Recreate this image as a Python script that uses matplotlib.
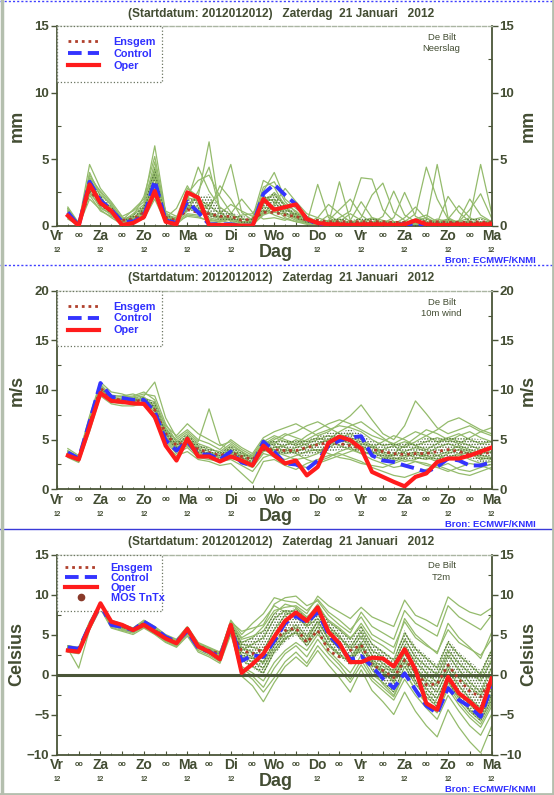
import numpy as np
import matplotlib
matplotlib.use('Agg')
import matplotlib.pyplot as plt
from matplotlib.lines import Line2D
from matplotlib.ticker import MultipleLocator

plt.rcParams['font.family'] = ['Liberation Sans', 'DejaVu Sans']
plt.rcParams['hatch.linewidth'] = 0.7

# ---------------- data ----------------
hours = list(range(6, 241, 6))          # forecast hours from Vr 12 UTC
day_names = ['Vr', 'Za', 'Zo', 'Ma', 'Di', 'Wo', 'Do', 'Vr', 'Za', 'Zo', 'Ma']
title_text = '(Startdatum: 2012012012)   Zaterdag  21 Januari   2012'

# Precipitation (mm)
precip_oper = [0.75, 0.0, 3.1, 1.7, 1.1, 0.05, 0.2, 0.65, 2.6, 0.3, 0.1, 2.5, 2.1, 0.05, 0.05, 0.05, 0.0, 0.0, 2.0, 1.2,
               1.4, 1.6, 0.5, 0.2, 0.1, 0.1, 0.05, 0.1, 0.1, 0.1, 0.05, 0.1, 0.4, 0.1, 0.05, 0.05, 0.1, 0.05, 0.1, 0.1]
precip_control = [1.0, 0.0, 3.3, 1.9, 1.2, 0.3, 0.3, 0.7, 3.4, 0.4, 0.2, 1.8, 1.0, 0.1, 0.1, 0.1, 0.0, 0.0, 2.4, 3.1,
                  2.3, 1.6, 0.5, 0.1, 0.0, 0.0, 0.0, 0.0, 0.05, 0.05, 0.05, 0.1, 0.0, 0.05, 0.05, 0.05, 0.05, 0.05, 0.05, 0.05]
precip_mean = [0.8, 0.1, 2.6, 1.8, 1.1, 0.4, 0.5, 1.0, 2.5, 0.6, 0.4, 1.2, 1.0, 0.9, 0.7, 0.7, 0.4, 0.5, 1.0, 1.0,
               0.8, 0.7, 0.4, 0.4, 0.3, 0.3, 0.3, 0.3, 0.3, 0.3, 0.25, 0.25, 0.3, 0.3, 0.3, 0.25, 0.25, 0.25, 0.3, 0.25]
precip_members = [
    [1.2, 0.1, 3.8, 2.5, 1.5, 0.4, 0.6, 1.2, 4.4, 0.8, 0.3, 1.5, 1.4, 0.8, 0.5, 0.6, 0.3, 0.2, 1.8, 2.0, 1.2, 0.8, 0.3, 0.2, 0.1, 0.1, 0.0, 0.2, 0.5, 0.2, 0.1, 0.1, 0.3, 0.2, 0.1, 0.0, 0.1, 0.2, 0.1, 0.1],
    [0.6, 0.0, 2.4, 1.6, 0.9, 0.2, 0.3, 1.5, 3.0, 0.5, 0.6, 2.8, 2.2, 6.3, 1.0, 0.4, 0.2, 0.0, 0.9, 1.4, 1.0, 0.5, 0.2, 3.1, 0.6, 0.2, 0.1, 0.0, 0.1, 0.3, 0.1, 0.0, 0.2, 0.1, 0.3, 0.1, 0.0, 0.1, 0.0, 0.2],
    [1.4, 0.2, 4.6, 2.8, 1.8, 0.7, 1.1, 1.8, 6.0, 1.0, 0.3, 0.9, 0.8, 1.6, 2.4, 4.6, 1.0, 0.4, 1.2, 0.8, 0.5, 0.3, 0.1, 0.1, 0.4, 0.2, 0.1, 0.3, 0.6, 0.4, 0.2, 0.1, 0.5, 0.8, 0.3, 0.2, 0.1, 0.3, 0.2, 0.1],
    [0.9, 0.1, 3.4, 2.0, 1.3, 0.5, 0.4, 0.9, 3.6, 0.3, 0.2, 1.9, 4.4, 2.6, 1.4, 0.8, 0.5, 0.3, 2.6, 4.0, 2.0, 1.3, 0.7, 0.3, 0.2, 3.3, 0.4, 0.1, 0.2, 0.1, 0.0, 0.1, 0.1, 0.4, 4.6, 0.6, 0.2, 0.1, 0.1, 0.0],
    [0.5, 0.0, 2.0, 1.2, 0.6, 0.1, 0.2, 0.6, 2.2, 0.6, 1.3, 3.0, 1.6, 0.5, 0.3, 0.9, 2.0, 1.0, 0.5, 0.6, 0.4, 0.9, 0.5, 0.3, 0.1, 0.6, 1.1, 3.6, 3.5, 1.2, 0.3, 0.2, 0.1, 0.0, 0.2, 0.4, 0.3, 0.6, 4.6, 1.0],
    [1.1, 0.2, 3.0, 1.4, 0.8, 0.3, 0.7, 2.2, 5.2, 0.9, 0.4, 1.1, 2.6, 4.4, 1.1, 0.3, 0.1, 0.1, 1.6, 2.5, 1.6, 1.1, 0.4, 0.2, 0.8, 0.3, 0.1, 0.0, 0.1, 0.2, 0.6, 2.5, 0.7, 0.3, 0.1, 0.1, 0.2, 0.1, 0.3, 0.2],
    [0.8, 0.0, 2.7, 1.9, 1.4, 0.6, 0.5, 1.0, 2.8, 0.4, 0.2, 1.6, 1.2, 0.6, 0.4, 0.2, 0.1, 0.6, 3.4, 2.9, 1.4, 0.6, 0.3, 0.1, 0.1, 0.0, 0.4, 1.8, 0.6, 0.2, 0.1, 0.3, 0.9, 4.4, 2.0, 0.5, 0.2, 0.4, 0.6, 0.3],
    [1.3, 0.1, 4.0, 2.2, 1.0, 0.2, 0.8, 1.4, 4.0, 0.7, 0.5, 2.1, 1.9, 1.2, 3.0, 2.0, 0.6, 0.2, 1.0, 1.6, 2.8, 1.8, 0.9, 0.6, 0.3, 0.2, 0.1, 0.1, 0.2, 0.7, 2.6, 0.8, 0.3, 0.1, 0.0, 0.1, 0.3, 1.2, 2.4, 0.6],
    [0.7, 0.1, 2.3, 1.1, 0.7, 0.3, 0.9, 1.6, 4.8, 0.6, 0.3, 0.7, 0.6, 0.4, 0.3, 0.5, 0.8, 0.9, 2.2, 1.8, 0.8, 0.4, 0.2, 0.6, 1.6, 0.9, 0.3, 0.2, 0.1, 0.0, 0.1, 0.2, 0.4, 0.6, 0.2, 2.2, 1.0, 0.3, 0.1, 0.1],
    [1.0, 0.0, 3.6, 2.6, 1.7, 0.4, 0.3, 0.5, 2.0, 0.2, 0.1, 2.4, 3.4, 3.8, 2.2, 1.0, 0.3, 0.1, 0.8, 1.1, 1.2, 0.9, 0.4, 0.2, 0.1, 0.3, 0.9, 0.4, 0.1, 0.1, 0.2, 0.1, 0.1, 0.2, 0.5, 0.3, 0.1, 0.0, 0.2, 0.4],
    [0.6, 0.2, 3.2, 1.5, 1.2, 0.5, 0.6, 1.1, 3.2, 0.5, 0.2, 1.3, 1.0, 0.9, 0.6, 0.4, 0.2, 0.4, 2.9, 3.3, 1.8, 1.0, 0.6, 0.3, 0.2, 0.1, 0.2, 0.6, 2.3, 3.2, 1.0, 0.4, 0.2, 0.1, 0.1, 0.0, 0.2, 0.3, 0.1, 0.1],
    [1.1, 0.1, 2.9, 1.8, 1.1, 0.3, 0.4, 0.8, 3.8, 0.8, 0.6, 1.7, 2.0, 1.5, 0.9, 1.6, 1.1, 0.7, 1.4, 1.3, 0.6, 0.3, 0.2, 0.1, 0.3, 0.5, 0.2, 0.1, 0.3, 0.2, 0.1, 0.6, 1.4, 0.5, 0.2, 0.1, 0.4, 2.0, 0.8, 0.3],
    [0.9, 0.0, 3.5, 2.3, 1.6, 0.6, 0.5, 1.3, 3.0, 0.3, 0.1, 0.8, 0.7, 0.3, 0.2, 0.1, 0.0, 0.2, 2.0, 2.3, 1.5, 0.7, 0.2, 0.1, 0.0, 0.1, 0.1, 0.0, 0.2, 0.1, 0.0, 0.1, 0.2, 0.1, 0.0, 0.1, 0.1, 0.0, 0.1, 0.1],
    [1.3, 0.1, 2.6, 1.3, 0.9, 0.4, 1.2, 2.0, 4.2, 1.1, 0.7, 1.4, 1.2, 1.0, 0.7, 0.5, 0.3, 0.2, 1.1, 1.0, 0.9, 0.6, 0.3, 0.2, 0.4, 1.2, 2.0, 0.8, 0.2, 0.1, 0.3, 0.2, 0.1, 0.1, 0.3, 0.5, 1.5, 0.6, 0.2, 0.1],
]

# 10m wind (m/s)
wind_oper = [3.4, 3.0, 6.3, 9.7, 8.9, 8.8, 8.65, 8.6, 7.3, 4.4, 2.9, 5.1, 3.3, 3.3, 2.8, 3.3, 2.9, 2.4, 4.4, 3.4,
             2.6, 2.9, 1.4, 2.25, 4.7, 5.3, 4.95, 4.1, 1.75, 1.25, 0.75, 0.3, 1.25, 1.6, 2.75, 3.1, 3.1, 3.4, 3.8, 4.2]
wind_control = [3.7, 3.1, 6.8, 10.7, 9.3, 9.2, 9.0, 9.0, 7.8, 4.95, 3.9, 4.8, 3.5, 3.5, 3.0, 3.8, 2.7, 2.4, 4.8, 3.8,
                2.6, 2.5, 2.0, 2.9, 4.4, 4.9, 5.2, 5.35, 3.4, 2.9, 2.75, 2.4, 2.1, 1.75, 2.25, 3.1, 2.9, 2.4, 2.4, 2.75]
wind_mean = [3.6, 3.1, 6.6, 10.2, 9.1, 9.0, 8.9, 8.9, 8.0, 5.6, 4.4, 4.9, 4.0, 3.7, 3.4, 3.7, 3.3, 3.0, 4.0, 4.0,
             3.9, 3.9, 4.2, 4.5, 4.7, 4.6, 4.4, 4.1, 4.0, 3.8, 3.6, 3.5, 3.6, 3.6, 3.8, 4.0, 3.8, 3.5, 3.6, 3.7]
wind_members = [
    [3.8, 3.2, 7.0, 10.4, 9.5, 9.3, 9.4, 9.8, 9.0, 6.2, 4.8, 5.6, 4.6, 4.2, 3.6, 4.4, 3.8, 3.2, 4.5, 5.2, 4.8, 4.4, 5.0, 5.6, 6.0, 6.4, 6.2, 5.8, 5.0, 4.4, 4.6, 5.2, 5.8, 5.4, 4.8, 5.2, 5.6, 5.0, 4.6, 4.8],
    [3.4, 2.9, 6.2, 9.8, 8.8, 8.6, 8.8, 8.7, 7.6, 5.0, 3.8, 4.4, 3.4, 3.2, 3.0, 3.4, 2.6, 2.2, 3.6, 3.3, 3.0, 3.4, 3.8, 4.0, 3.6, 3.2, 3.0, 2.6, 2.4, 2.2, 2.6, 3.0, 2.8, 2.4, 2.2, 2.6, 2.0, 1.8, 2.2, 2.5],
    [4.1, 3.4, 7.4, 10.8, 9.8, 9.6, 9.2, 9.4, 10.8, 7.2, 5.2, 6.0, 5.0, 4.6, 4.0, 5.0, 4.2, 3.6, 5.2, 5.8, 6.2, 6.6, 6.0, 5.4, 5.8, 6.6, 7.4, 8.5, 7.0, 5.6, 5.0, 6.4, 8.9, 7.6, 6.2, 5.6, 6.0, 6.4, 5.8, 6.2],
    [3.2, 2.7, 5.8, 9.4, 8.6, 8.4, 8.4, 8.6, 7.0, 4.4, 3.4, 3.8, 3.0, 2.8, 2.4, 2.6, 1.6, 0.6, 2.8, 3.0, 2.4, 2.0, 2.6, 3.0, 3.4, 3.6, 3.2, 2.8, 2.2, 1.8, 1.4, 1.2, 1.6, 2.0, 2.4, 2.0, 1.6, 1.4, 1.8, 2.2],
    [3.6, 3.0, 6.8, 10.0, 9.2, 9.0, 9.1, 9.0, 8.4, 6.0, 5.0, 5.8, 4.8, 8.1, 4.6, 3.8, 3.4, 3.0, 4.2, 4.6, 5.4, 5.8, 6.4, 6.8, 6.2, 5.6, 5.0, 4.6, 4.2, 4.8, 5.4, 5.0, 4.4, 4.0, 4.6, 5.2, 4.8, 4.4, 4.0, 4.3],
    [3.5, 3.1, 6.4, 10.2, 9.0, 8.8, 8.7, 8.8, 8.2, 5.4, 4.0, 4.6, 3.6, 3.4, 3.2, 3.8, 3.2, 2.8, 4.6, 3.8, 3.4, 3.0, 3.2, 3.6, 4.2, 4.8, 5.2, 4.8, 4.2, 3.6, 3.2, 2.8, 3.0, 3.6, 4.2, 4.6, 4.2, 3.8, 3.2, 3.0],
    [3.9, 3.3, 7.2, 10.6, 9.4, 9.4, 9.6, 9.2, 8.8, 6.4, 5.4, 6.6, 5.6, 5.0, 4.4, 4.8, 4.0, 3.4, 5.0, 4.4, 3.8, 4.2, 4.6, 5.0, 5.4, 5.0, 4.6, 4.0, 3.4, 3.0, 3.6, 4.4, 5.2, 6.0, 5.6, 5.0, 4.6, 5.2, 5.8, 5.4],
    [3.3, 2.8, 6.0, 9.6, 8.9, 8.8, 8.9, 8.5, 7.4, 4.8, 3.6, 4.2, 3.2, 3.0, 2.8, 3.0, 2.4, 1.8, 3.2, 3.6, 4.0, 3.6, 3.0, 2.6, 3.0, 3.4, 3.8, 4.2, 3.8, 3.2, 2.8, 3.2, 3.6, 3.2, 2.8, 3.2, 3.6, 3.0, 2.6, 2.8],
    [3.7, 3.0, 6.6, 10.0, 9.1, 9.2, 9.0, 9.1, 8.0, 5.8, 4.6, 5.2, 4.2, 3.8, 3.4, 4.2, 3.6, 3.2, 4.8, 5.4, 5.0, 4.6, 5.4, 6.0, 6.6, 7.0, 6.6, 6.0, 5.4, 5.0, 4.6, 4.2, 4.8, 5.4, 6.0, 6.8, 7.2, 6.6, 6.0, 5.6],
    [3.4, 3.0, 6.5, 9.9, 8.7, 8.9, 9.2, 9.0, 8.6, 5.6, 4.2, 4.8, 3.8, 3.6, 3.2, 3.6, 3.0, 2.4, 3.8, 4.2, 4.4, 5.0, 4.4, 3.8, 4.4, 5.2, 5.6, 5.0, 4.4, 3.8, 3.4, 3.8, 4.2, 3.8, 3.4, 3.0, 3.4, 3.8, 3.4, 3.2],
    [3.8, 3.2, 6.9, 10.3, 9.3, 9.1, 8.8, 9.3, 8.3, 6.0, 4.4, 5.4, 4.4, 4.0, 3.8, 4.6, 3.8, 3.0, 4.4, 4.8, 4.2, 3.8, 4.2, 4.6, 5.0, 5.8, 6.4, 6.8, 6.0, 5.2, 4.4, 3.6, 3.2, 3.0, 3.4, 3.8, 4.4, 4.0, 3.6, 3.8],
    [3.5, 2.9, 6.3, 9.7, 9.0, 8.7, 8.6, 8.8, 7.8, 5.2, 4.0, 4.4, 3.6, 3.2, 3.0, 3.2, 2.8, 2.6, 4.0, 3.4, 2.8, 2.4, 2.2, 2.8, 3.2, 3.8, 4.2, 3.6, 3.0, 2.6, 2.2, 2.4, 2.8, 2.6, 2.2, 1.8, 2.2, 2.6, 2.4, 2.0],
    [3.6, 3.1, 6.7, 10.1, 9.2, 9.0, 9.3, 9.6, 9.4, 6.6, 4.8, 5.0, 4.0, 3.6, 3.4, 4.0, 3.4, 3.4, 4.4, 5.0, 5.6, 5.2, 4.8, 5.2, 4.8, 4.4, 4.0, 3.6, 3.6, 4.0, 4.4, 4.8, 4.4, 4.8, 5.2, 4.8, 5.4, 5.8, 5.2, 4.8],
    [3.7, 3.1, 6.6, 10.1, 9.1, 9.0, 9.0, 8.9, 8.1, 5.6, 4.2, 5.0, 3.8, 3.6, 3.4, 3.6, 3.2, 2.6, 4.2, 4.0, 3.6, 3.8, 4.2, 4.6, 5.0, 5.2, 4.8, 4.4, 3.8, 3.4, 3.0, 3.4, 3.8, 3.4, 3.0, 3.6, 4.0, 3.6, 3.0, 3.2],
]

# 2m temperature (Celsius)
t2m_oper = [3.0, 2.85, 6.0, 8.9, 6.6, 6.2, 5.55, 6.2, 5.35, 4.5, 3.9, 5.7, 3.5, 2.85, 1.9, 6.2, 0.2, 1.3, 2.6, 4.7,
            6.7, 7.75, 6.7, 8.4, 5.3, 3.9, 1.55, 1.55, 2.1, 2.0, 1.0, 3.15, 0.6, -3.6, -4.4, -0.3, -2.35, -3.4, -4.65, -0.5]
t2m_control = [3.4, 3.2, 6.1, 8.7, 6.2, 5.95, 5.55, 6.6, 5.8, 4.7, 4.1, 5.4, 3.3, 2.85, 2.2, 5.95, 1.7, 2.4, 2.2, 4.2,
               6.4, 7.3, 6.5, 7.8, 5.0, 3.5, 1.9, 2.3, 1.0, -0.5, -1.7, 0.15, -1.9, -3.9, -4.85, -1.7, -3.2, -4.0, -5.3, -1.5]
t2m_mean = [3.2, 3.0, 6.2, 8.6, 6.4, 6.0, 5.6, 6.4, 5.6, 4.6, 4.0, 5.5, 3.6, 3.0, 2.6, 5.6, 3.0, 2.6, 3.2, 4.2,
            5.5, 5.8, 4.0, 5.5, 3.0, 2.2, 3.0, 3.7, 1.2, 0.5, -0.4, 1.8, 0.4, -1.3, -1.2, 1.2, -0.6, -2.1, -2.8, -0.5]
t2m_members = [
    [3.6, 3.4, 6.6, 9.0, 6.8, 6.3, 5.8, 6.8, 6.0, 5.0, 4.4, 6.0, 4.0, 3.4, 2.8, 6.4, 4.0, 4.6, 6.0, 8.0, 8.4, 8.6, 7.6, 9.8, 8.6, 7.8, 7.0, 8.4, 7.2, 6.6, 6.0, 9.3, 7.4, 6.8, 6.0, 9.7, 8.6, 7.8, 7.4, 8.3],
    [3.0, 2.8, 5.8, 8.4, 6.0, 5.8, 5.4, 6.0, 5.2, 4.2, 3.6, 5.2, 3.2, 2.6, 2.0, 5.6, 1.0, 0.2, -0.8, 1.5, 3.0, 4.0, 3.0, 5.0, 3.6, 2.4, 1.6, 3.4, 1.8, 1.0, 0.2, 2.6, 0.8, -0.6, -1.4, 1.0, -0.4, -1.6, -2.6, -0.6],
    [3.4, 3.2, 6.4, 8.8, 6.6, 6.1, 5.7, 6.6, 5.8, 4.8, 4.2, 5.8, 3.8, 3.2, 2.6, 6.8, 5.0, 6.4, 7.6, 9.6, 9.2, 9.0, 8.0, 9.4, 7.8, 6.8, 5.6, 7.2, 5.0, 4.2, 3.4, 6.6, 4.6, 3.6, 2.8, 5.6, 4.0, 3.2, 2.4, 4.4],
    [3.2, 0.8, 5.6, 8.6, 6.2, 5.6, 5.2, 6.2, 5.4, 4.4, 3.8, 5.4, 3.4, 2.8, 2.4, 5.2, 2.4, 2.0, 1.6, 4.0, 5.2, 6.2, 4.8, 6.6, 4.4, 3.4, 2.2, 4.0, 1.4, 0.4, -1.0, 1.6, -0.8, -2.4, -3.6, -1.0, -3.0, -4.6, -5.8, -3.2],
    [3.3, 3.0, 6.1, 8.5, 6.4, 6.0, 5.6, 6.3, 5.6, 4.6, 3.9, 5.6, 3.5, 2.8, 2.2, 6.2, 3.4, 2.8, 2.2, 4.8, 6.8, 7.4, 6.2, 7.6, 5.2, 3.6, 2.0, 3.0, 0.6, -1.2, -2.6, 0.4, -2.0, -3.6, -4.8, -1.8, -3.8, -5.4, -6.6, -4.0],
    [2.8, 2.6, 5.6, 8.2, 5.8, 5.4, 5.0, 5.8, 5.0, 4.0, 3.4, 4.8, 2.8, 2.2, 1.4, 5.0, 0.4, -0.6, -2.2, -0.4, 1.6, 2.8, 1.4, 3.6, 2.0, 0.6, -1.0, 1.2, -0.8, -2.0, -3.2, -0.6, -2.6, -4.2, -5.6, -2.6, -4.6, -6.4, -7.6, -5.0],
    [3.5, 3.3, 6.5, 8.9, 6.7, 6.2, 5.8, 6.7, 5.9, 4.9, 4.3, 5.9, 3.9, 3.3, 2.7, 6.6, 4.6, 5.4, 6.8, 8.6, 7.8, 7.2, 6.0, 7.0, 5.6, 4.6, 3.4, 5.4, 3.0, 2.2, 1.2, 4.4, 2.2, 1.0, 0.0, 3.0, 1.4, 0.2, -0.8, 1.8],
    [3.1, 2.9, 6.0, 8.6, 6.2, 5.9, 5.5, 6.2, 5.5, 4.5, 3.8, 5.4, 3.4, 2.8, 2.0, 5.8, 1.8, 1.0, 0.2, 2.8, 4.4, 5.4, 4.0, 6.0, 3.8, 2.6, 1.4, 3.6, 1.2, 0.2, -0.8, 3.0, 0.6, -1.0, -2.2, 0.6, -1.4, -3.0, -4.2, -1.6],
    [3.4, 3.1, 6.3, 8.7, 6.5, 6.0, 5.6, 6.5, 5.7, 4.7, 4.1, 5.7, 3.7, 3.0, 2.5, 6.3, 3.8, 3.4, 3.0, 5.6, 7.4, 8.2, 7.0, 8.8, 6.6, 5.6, 4.4, 6.4, 4.4, 3.6, 2.6, 7.0, 5.0, 3.8, 2.6, 6.4, 4.6, 3.4, 2.0, 5.2],
    [3.2, 3.0, 6.2, 8.6, 6.3, 5.9, 5.6, 6.4, 5.6, 4.6, 4.0, 5.5, 3.6, 2.9, 2.3, 5.9, 2.8, 2.2, 1.4, 3.6, 5.0, 5.8, 4.4, 6.6, 4.6, 3.2, 1.8, 3.8, 1.6, 0.6, -0.4, 2.0, 0.0, -1.8, -3.0, 0.0, -2.2, -3.8, -5.0, -2.4],
    [3.0, 2.7, 5.9, 8.4, 6.1, 5.7, 5.3, 6.1, 5.3, 4.3, 3.7, 5.3, 3.3, 2.6, 1.8, 5.4, -0.2, -1.4, -3.4, -1.0, 1.0, 2.2, 1.0, 3.0, 1.2, -0.4, -2.2, 0.6, -2.0, -3.4, -5.0, -2.2, -4.6, -6.4, -7.8, -4.4, -6.6, -8.4, -9.8, -6.5],
    [3.6, 3.3, 6.5, 8.9, 6.7, 6.3, 5.8, 6.6, 5.9, 4.9, 4.3, 5.9, 3.9, 3.2, 2.8, 6.6, 5.4, 5.8, 6.2, 8.8, 9.6, 9.8, 8.6, 9.2, 7.4, 6.2, 5.2, 7.8, 6.0, 5.2, 4.4, 8.0, 6.4, 5.6, 4.8, 8.6, 7.2, 6.4, 5.6, 7.4],
    [3.3, 3.1, 6.2, 8.7, 6.5, 6.1, 5.7, 6.3, 5.6, 4.6, 4.0, 5.6, 3.5, 2.9, 2.2, 6.0, 3.0, 3.8, 4.6, 7.0, 8.0, 7.8, 6.6, 8.0, 6.0, 4.8, 3.0, 4.8, 2.4, 1.4, 0.4, 3.6, 1.6, 0.2, -1.0, 2.4, 0.6, -1.0, -2.2, 0.8],
    [2.9, 2.7, 5.7, 8.3, 5.9, 5.5, 5.2, 5.9, 5.1, 4.1, 3.5, 5.0, 3.0, 2.4, 1.6, 5.3, 0.8, -0.2, -1.6, 0.8, 2.6, 3.6, 2.2, 4.4, 2.6, 1.2, -0.6, 1.8, -0.4, -1.6, -2.8, 0.2, -1.8, -3.4, -4.6, -1.4, -3.4, -5.0, -6.2, -3.6],
    [3.5, 3.2, 6.4, 8.8, 6.6, 6.2, 5.7, 6.5, 5.8, 4.8, 4.2, 5.8, 3.8, 3.1, 2.6, 6.4, 4.4, 4.8, 5.4, 7.6, 8.8, 8.4, 7.2, 8.4, 6.8, 5.8, 4.6, 6.0, 3.8, 2.8, 1.8, 5.2, 3.2, 2.0, 0.8, 4.0, 2.4, 1.2, 0.0, 3.0],
    [3.1, 2.9, 6.0, 8.5, 6.3, 5.8, 5.4, 6.2, 5.4, 4.4, 3.8, 5.4, 3.4, 2.7, 2.1, 5.6, 2.2, 1.6, 0.8, 3.2, 4.6, 5.2, 3.6, 5.4, 3.0, 1.6, 0.2, 2.4, 0.0, -1.0, -2.2, 1.0, -1.2, -2.8, -4.0, -0.8, -2.8, -4.4, -5.6, -2.8],
]
mos_tntx = []   # no MOS points visible, legend entry only

panels = [
    dict(oper=precip_oper, control=precip_control, mean=precip_mean, members=precip_members,
         ylim=(0, 15), major=5, minor=2.5, ylabel='mm', param='Neerslag', mos=False, zero=False),
    dict(oper=wind_oper, control=wind_control, mean=wind_mean, members=wind_members,
         ylim=(0, 20), major=5, minor=2.5, ylabel='m/s', param='10m wind', mos=False, zero=False),
    dict(oper=t2m_oper, control=t2m_control, mean=t2m_mean, members=t2m_members,
         ylim=(-10, 15), major=5, minor=2.5, ylabel='Celsius', param='T2m', mos=True, zero=True),
]

# ---------------- style ----------------
W, H = 554, 795
TXT = '#434d33'
AXC = '#4a5538'
GREEN = '#94bb6c'
STIP = '#4c6a34'
MEANC = '#b0402c'
BLUE = '#3434ff'
RED = '#ff1c1c'
LEGTXT = '#2f2fff'

fig = plt.figure(figsize=(W / 100, H / 100), dpi=100)
fig.patch.set_facecolor('white')

# axes rectangles in pixels: (top, bottom)
rects = [(26, 225.7), (290.7, 489.3), (554.5, 754.5)]
left_px, right_px = 57, 491.5

for p, (top, bot) in zip(panels, rects):
    ax = fig.add_axes([left_px / W, 1 - bot / H, (right_px - left_px) / W, (bot - top) / H])
    ax.set_xlim(0, 240)
    ax.set_ylim(*p['ylim'])

    members = np.array(p['members'])
    for m in members:
        ax.plot(hours, m, color=GREEN, lw=0.9, zorder=2)
    q25, q75 = np.percentile(members, [25, 75], axis=0)
    ax.fill_between(hours, q25, q75, facecolor='none', edgecolor=STIP, hatch='......',
                    linewidth=0, zorder=3)
    if p['zero']:
        ax.axhline(0, color=AXC, lw=2.2, zorder=2.5)
    l_mean, = ax.plot(hours, p['mean'], color=MEANC, lw=2.0, ls=(0, (1, 1.4)), zorder=4, label='Ensgem')
    l_ctrl, = ax.plot(hours, p['control'], color=BLUE, lw=2.8, ls=(0, (3.5, 1.6)), zorder=5, label='Control')
    l_oper, = ax.plot(hours, p['oper'], color=RED, lw=3.0, zorder=6, label='Oper')
    handles = [l_mean, l_ctrl, l_oper]
    if p['mos']:
        l_mos, = ax.plot(mos_tntx, mos_tntx, ls='none', marker='o', ms=4.5, color='#8a3a2a', label='MOS TnTx')
        handles.append(l_mos)

    # spines
    for s in ['left', 'right', 'bottom']:
        ax.spines[s].set_color(AXC)
        ax.spines[s].set_linewidth(1.3)
    ax.spines['top'].set_color('#aab5a2')
    ax.spines['top'].set_linestyle((0, (3, 1.5)))
    ax.spines['top'].set_linewidth(1.0)

    # y ticks
    ax.yaxis.set_major_locator(MultipleLocator(p['major']))
    ax.yaxis.set_minor_locator(MultipleLocator(p['minor']))
    ax.tick_params(axis='y', which='major', direction='out', length=4, width=1, color=AXC,
                   labelsize=9.5, labelcolor=TXT, pad=1.5, right=True, labelright=True)
    ax.tick_params(axis='y', which='minor', direction='in', length=3, width=0.8, color=AXC, right=True)
    for lab in ax.get_yticklabels():
        lab.set_fontweight('bold')
    ax.set_ylabel(p['ylabel'], fontsize=13, fontweight='bold', color=TXT)
    ax.yaxis.set_label_coords(-0.072, 0.5)
    ax.text(1.085, 0.5, p['ylabel'], transform=ax.transAxes, rotation=90, ha='center', va='center',
            fontsize=13, fontweight='bold', color=TXT)

    # x ticks
    ax.xaxis.set_major_locator(MultipleLocator(12))
    ax.xaxis.set_minor_locator(MultipleLocator(6))
    ax.tick_params(axis='x', which='major', direction='in', length=3, color=AXC, labelbottom=False)
    ax.tick_params(axis='x', which='minor', direction='in', length=1.8, color=AXC)
    for k, name in enumerate(day_names):
        hx = 24 * k
        ax.annotate(name, xy=(hx, 0), xycoords=('data', 'axes fraction'), xytext=(0, -7.5),
                    textcoords='offset points', ha='center', va='center', fontsize=10,
                    fontweight='bold', color=TXT, annotation_clip=False)
        if k != 5:
            ax.annotate('12', xy=(hx, 0), xycoords=('data', 'axes fraction'), xytext=(0, -18.0),
                        textcoords='offset points', ha='center', va='center', fontsize=4.8,
                        fontweight='bold', color=TXT, annotation_clip=False)
        if k < len(day_names) - 1:
            ax.annotate('oo', xy=(hx + 12, 0), xycoords=('data', 'axes fraction'), xytext=(0, -7.0),
                        textcoords='offset points', ha='center', va='center', fontsize=5.2,
                        fontweight='bold', color=TXT, annotation_clip=False)
    ax.annotate('Dag', xy=(0.503, 0), xycoords='axes fraction', xytext=(0, -19.3),
                textcoords='offset points', ha='center', va='center', fontsize=13,
                fontweight='bold', color=TXT)
    ax.annotate('Bron: ECMWF/KNMI', xy=(1, 0), xycoords='axes fraction', xytext=(32, -25.0),
                textcoords='offset points', ha='right', va='center', fontsize=6.8,
                fontweight='bold', color=LEGTXT)

    # title and station text
    ax.annotate(title_text, xy=(0.516, 1), xycoords='axes fraction', xytext=(0, 9),
                textcoords='offset points', ha='center', va='center', fontsize=8.6,
                fontweight='bold', color=TXT)
    ax.text(0.885, 0.965, 'De Bilt\n' + p['param'], transform=ax.transAxes, ha='center', va='top',
            fontsize=6.8, color=TXT, linespacing=1.35)

    # legend
    leg = ax.legend(handles=handles, loc='upper left', bbox_to_anchor=(0, 0, 0.242, 1), mode='expand',
                    borderaxespad=0, fontsize=7.8, handlelength=2.9, handletextpad=1.3,
                    borderpad=1.0 if not p['mos'] else 0.75, labelspacing=0.18 if not p['mos'] else 0.0,
                    fancybox=False, framealpha=1, edgecolor='#6a7460')
    leg.get_frame().set_linestyle(':')
    leg.get_frame().set_linewidth(0.9)
    for t in leg.get_texts():
        t.set_color(LEGTXT)
        t.set_fontweight('bold')

# figure borders / separators
def hline(ypx, color, ls, lw):
    fig.add_artist(Line2D([0, 1], [1 - ypx / H, 1 - ypx / H], transform=fig.transFigure,
                          color=color, ls=ls, lw=lw))

def vline(xpx, color, lw):
    fig.add_artist(Line2D([xpx / W, xpx / W], [0, 1], transform=fig.transFigure, color=color, lw=lw))

hline(0.8, '#4040ff', (0, (1.5, 1.5)), 1.0)
hline(265, '#4040ff', (0, (1.5, 1.5)), 1.0)
hline(529, '#3a3ad8', '-', 1.0)
hline(793.5, '#b4bfae', '-', 2.0)
vline(1.5, '#b4bfae', 2.5)
vline(552.5, '#b4bfae', 2.0)

fig.savefig('out.png', dpi=100, facecolor='white')
